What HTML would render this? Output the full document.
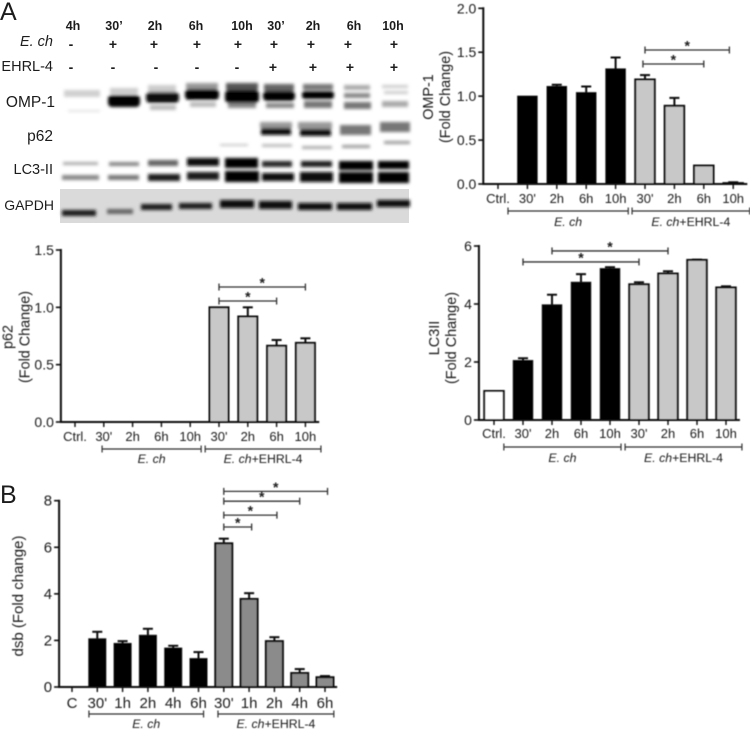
<!DOCTYPE html>
<html lang="en">
<head>
<meta charset="utf-8">
<title>OMP-1, p62, LC3II and dsb fold change</title>
<style>
html,body{margin:0;padding:0;background:#fff;width:750px;height:730px;overflow:hidden}
svg{display:block;font-family:"Liberation Sans",Arial,sans-serif}
text{fill:#1c1c1c}
</style>
</head>
<body>
<svg id="figure" width="750" height="730" viewBox="0 0 750 730" xmlns="http://www.w3.org/2000/svg">
<defs>
<filter id="b1" x="-20%" y="-80%" width="140%" height="260%"><feGaussianBlur stdDeviation="1.7"/></filter>
<filter id="soft" x="-2%" y="-2%" width="104%" height="104%"><feGaussianBlur stdDeviation="0.4"/></filter>
</defs>
<text x="0" y="20" font-size="25">A</text>
<text x="0" y="503" font-size="25">B</text>

<g>
<g font-size="12.5" font-weight="bold" text-anchor="middle">
<text x="73" y="30">4h</text><text x="114" y="30">30’</text><text x="155" y="30">2h</text><text x="196" y="30">6h</text><text x="242" y="30">10h</text><text x="276" y="30">30’</text><text x="313" y="30">2h</text><text x="354" y="30">6h</text><text x="393" y="30">10h</text>
</g>
<g text-anchor="end">
<text x="53" y="46" font-style="italic" font-size="14.5">E. ch</text>
<text x="53" y="71" font-size="14.5">EHRL-4</text>
<text x="55" y="107" font-size="15.5">OMP-1</text>
<text x="53" y="141" font-size="15.5">p62</text>
<text x="53" y="174" font-size="14.5">LC3-II</text>
<text x="54" y="210" font-size="14">GAPDH</text>
</g>
<g font-size="14" font-weight="bold" text-anchor="middle">
<text x="71" y="49">-</text><text x="113" y="49">+</text><text x="154" y="49">+</text><text x="197" y="49">+</text><text x="238" y="49">+</text><text x="274" y="49">+</text><text x="311" y="49">+</text><text x="348" y="49">+</text><text x="394" y="49">+</text>
</g>
<g font-size="14" font-weight="bold" text-anchor="middle">
<text x="71" y="72">-</text><text x="113" y="72">-</text><text x="156" y="72">-</text><text x="197" y="72">-</text><text x="237" y="72">-</text><text x="273" y="72">+</text><text x="313" y="72">+</text><text x="350" y="72">+</text><text x="394" y="72">+</text>
</g>
<g filter="url(#b1)">
<rect x="64" y="90" width="36" height="7" fill="#d0d0d0"/><rect x="68" y="110" width="32" height="2" fill="#e2e2e2"/>
<rect x="110" y="88" width="28" height="6" fill="#ccc"/><rect x="108" y="95" width="32" height="12" rx="4" fill="#050505"/>
<rect x="148" y="85" width="28" height="7" fill="#ccc"/><rect x="146" y="92" width="33" height="11" rx="4" fill="#080808"/><rect x="150" y="105" width="26" height="5" fill="#bbb"/>
<rect x="186" y="83" width="32" height="6" fill="#999"/><rect x="185" y="89" width="34" height="11" rx="4" fill="#040404"/><rect x="190" y="102" width="26" height="5" fill="#bbb"/>
<rect x="226" y="83" width="32" height="7" fill="#555"/><rect x="225" y="90" width="34" height="13" rx="4" fill="#040404"/><rect x="228" y="103" width="28" height="5" fill="#888"/>
<rect x="264" y="84" width="30" height="7" fill="#666"/><rect x="263" y="91" width="32" height="10" rx="4" fill="#050505"/><rect x="266" y="103" width="28" height="5" fill="#888"/>
<rect x="303" y="84" width="30" height="6" fill="#777"/><rect x="302" y="91" width="32" height="8" rx="3" fill="#050505"/><rect x="304" y="101" width="28" height="7" fill="#777"/>
<rect x="344" y="85" width="26" height="5" fill="#aaa"/><rect x="344" y="93" width="26" height="5" fill="#888"/><rect x="344" y="102" width="27" height="7" fill="#777"/>
<rect x="382" y="85" width="26" height="3" fill="#ccc"/><rect x="384" y="91" width="24" height="3" fill="#ccc"/><rect x="382" y="101" width="26" height="6" fill="#aaa"/>
</g>
<g filter="url(#b1)">
<rect x="220" y="144" width="28" height="2" fill="#c4c4c4"/>
<rect x="260" y="122" width="32" height="6" fill="#999"/><rect x="261" y="128" width="30" height="7" fill="#0c0c0c"/><rect x="262" y="144" width="30" height="3" fill="#bbb"/>
<rect x="298" y="122" width="34" height="7" fill="#999"/><rect x="300" y="129" width="31" height="7" fill="#0c0c0c"/><rect x="302" y="146" width="30" height="3" fill="#aaa"/>
<rect x="340" y="125" width="31" height="10" fill="#777"/><rect x="342" y="145" width="28" height="3" fill="#999"/>
<rect x="380" y="122" width="30" height="10" fill="#777"/><rect x="384" y="141" width="26" height="3" fill="#999"/>
</g>
<g filter="url(#b1)">
<rect x="63" y="162" width="35" height="3" fill="#aaa"/><rect x="62" y="175" width="37" height="5" fill="#888"/>
<rect x="109" y="162" width="30" height="4" fill="#888"/><rect x="108" y="175" width="31" height="5" fill="#777"/>
<rect x="148" y="160" width="30" height="6" fill="#666"/><rect x="148" y="174" width="32" height="7" fill="#1a1a1a"/>
<rect x="187" y="158" width="32" height="8" fill="#111"/><rect x="187" y="172" width="32" height="8" fill="#1a1a1a"/>
<rect x="225" y="158" width="33" height="10" fill="#060606"/><rect x="225" y="171" width="34" height="11" fill="#060606"/>
<rect x="262" y="161" width="30" height="6" fill="#2a2a2a"/><rect x="262" y="173" width="32" height="8" fill="#0a0a0a"/>
<rect x="301" y="161" width="31" height="6" fill="#1a1a1a"/><rect x="300" y="172" width="33" height="10" fill="#0a0a0a"/>
<rect x="339" y="161" width="34" height="9" fill="#060606"/><rect x="339" y="172" width="34" height="11" fill="#040404"/>
<rect x="378" y="161" width="31" height="8" fill="#060606"/><rect x="378" y="172" width="31" height="11" fill="#040404"/>
</g>
<rect x="60" y="189" width="349" height="34" fill="#dadada"/>
<g filter="url(#b1)">
<rect x="62" y="210" width="34" height="6" fill="#1a1a1a"/>
<rect x="107" y="209" width="26" height="5" fill="#666"/>
<rect x="141" y="204" width="31" height="6" fill="#1a1a1a"/>
<rect x="179" y="203" width="33" height="6" fill="#1a1a1a"/>
<rect x="220" y="200" width="34" height="8" fill="#111"/>
<rect x="259" y="201" width="33" height="8" fill="#111"/>
<rect x="298" y="203" width="34" height="7" fill="#111"/>
<rect x="337" y="203" width="35" height="7" fill="#111"/>
<rect x="377" y="200" width="33" height="7" fill="#111"/>
</g>
</g>
<g id="charts" filter="url(#soft)"></g>
</svg>
<script>
var ompCategories = ["Ctrl.", "30'", "2h", "6h", "10h", "30'", "2h", "6h", "10h"];
var ompValues = [0, 1.0, 1.11, 1.04, 1.31, 1.19, 0.89, 0.21, 0.01];
var ompErrors = [0, 0, 0.02, 0.07, 0.13, 0.05, 0.09, 0, 0.01];
var ompTicks = ["0.0", "0.5", "1.0", "1.5", "2.0"];
var ompBrackets = [[5, 7.87, 1.525], [4.93, 7, 1.366]];

var p62Categories = ["Ctrl.", "30'", "2h", "6h", "10h", "30'", "2h", "6h", "10h"];
var p62Values = [0, 0, 0, 0, 0, 1.0, 0.92, 0.665, 0.69];
var p62Errors = [0, 0, 0, 0, 0, 0, 0.08, 0.05, 0.04];
var p62Ticks = ["0.0", "0.5", "1.0", "1.5"];
var p62Brackets = [[5, 8, 1.177], [5, 7, 1.055]];

var lc3Categories = ["Ctrl.", "30'", "2h", "6h", "10h", "30'", "2h", "6h", "10h"];
var lc3Values = [1, 2.05, 3.97, 4.75, 5.22, 4.68, 5.05, 5.52, 4.57];
var lc3Errors = [0, 0.08, 0.35, 0.28, 0.05, 0.07, 0.08, 0.01, 0.04];
var lc3Ticks = ["0", "2", "4", "6"];
var lc3Brackets = [[2, 6, 5.83], [1, 5, 5.45]];

var dsbCategories = ["C", "30'", "1h", "2h", "4h", "6h", "30'", "1h", "2h", "4h", "6h"];
var dsbValues = [0, 2.07, 1.87, 2.22, 1.67, 1.22, 6.17, 3.78, 1.97, 0.6, 0.42];
var dsbErrors = [0, 0.3, 0.1, 0.28, 0.1, 0.28, 0.2, 0.25, 0.17, 0.17, 0.05];
var dsbTicks = ["0", "2", "4", "6", "8"];
var dsbBrackets = [[6, 10.1, 8.4], [6, 9, 7.98], [6, 8.1, 7.38], [6, 7.1, 6.87]];

var svgNS = "http://www.w3.org/2000/svg";
var chartsRoot = document.getElementById("charts");

function make(parent, tag, attrs, txt) {
  var el = document.createElementNS(svgNS, tag);
  for (var k in attrs) { el.setAttribute(k, attrs[k]); }
  if (txt !== undefined) { el.textContent = txt; }
  parent.appendChild(el);
  return el;
}

function seg(parent, x1, y1, x2, y2, w, color) {
  return make(parent, "line", {x1: x1, y1: y1, x2: x2, y2: y2, stroke: color || "#111", "stroke-width": w});
}

function drawChart(c) {
  var g = make(chartsRoot, "g", {});
  
  
  var xScale = function (i) { return c.x0 + c.step * i; };
  var maxTick = parseFloat(c.ticks[c.ticks.length - 1]);
  var yScale = function (v) { return c.y0 - (c.y0 - c.yTop) * v / maxTick; };

  // bars and error bars
  c.values.forEach(function (v, i) {
    if (v <= 0) { return; }
    var bx = xScale(i), bw = c.barWidth;
    var err = c.errors[i];
    if (err > 0) {
      var eb = make(g, "g", {stroke: "#111"});
      
      
      seg(eb, bx, yScale(v), bx, yScale(v + err), 2);
      seg(eb, bx - 5, yScale(v + err), bx + 5, yScale(v + err), 2);
    }
    var isBlack = c.fills[i] === "#000";
    var bar = make(g, "rect", {
      x: bx - bw / 2, y: yScale(v), width: bw, height: Math.max(0, c.y0 - yScale(v)),
      fill: c.fills[i], stroke: "#111", "stroke-width": isBlack ? 1 : 2
    });
    
    
  });

  // y axis
  var ya = make(g, "g", {});
  
  
  seg(ya, c.x0 - c.step * c.axisPad, c.y0 + 1, c.x0 - c.step * c.axisPad, c.yTop - 1, 2);
  var axisX = c.x0 - c.step * c.axisPad;
  c.ticks.forEach(function (t) {
    var ty = yScale(parseFloat(t));
    seg(ya, axisX - 5, ty, axisX, ty, 1.6);
    var lbl = make(ya, "text", {x: axisX - 7, y: ty + 5, "font-size": c.yFontSize, "text-anchor": "end"}, t);
    
    
  });

  // x axis
  var xa = make(g, "g", {});
  
  
  seg(xa, axisX, c.y0, xScale(c.values.length - 1) + c.step * 0.48, c.y0, 2);
  c.categories.forEach(function (t, i) {
    seg(xa, xScale(i), c.y0, xScale(i), c.y0 + 5, 1.4);
    var lbl = make(xa, "text", {x: xScale(i), y: c.y0 + c.tickLabelOffset, "font-size": c.fontSize, "text-anchor": "middle"}, t);
    
    
  });

  // axis title
  var title = make(g, "text", {
    transform: "translate(" + c.titleX + "," + c.titleY + ") rotate(-90)",
    "font-size": c.titleSize, "text-anchor": "middle"
  });
  
  
  c.title.forEach(function (line, i) {
    make(title, "tspan", {x: 0, dy: i === 0 ? 0 : 17}, line);
  });

  // group brackets
  c.groups.forEach(function (gr) {
    var gg = make(g, "g", {});
    
    
    var x1 = xScale(gr[0]), x2 = xScale(gr[1]), by = c.y0 + 27;
    seg(gg, x1, by, x2, by, 1.2, "#333");
    seg(gg, x1, by - 3.5, x1, by + 3.5, 1.2, "#333");
    seg(gg, x2, by - 3.5, x2, by + 3.5, 1.2, "#333");
    var t = make(gg, "text", {x: (x1 + x2) / 2, y: c.y0 + c.groupLabelOffset, "font-size": 12.3, "text-anchor": "middle"});
    make(t, "tspan", {"font-style": "italic"}, "E. ch");
    if (gr[2]) { make(t, "tspan", {}, gr[2]); }
  });

  // significance brackets
  c.brackets.forEach(function (br) {
    var sg = make(g, "g", {});
    
    
    var x1 = xScale(br[0]), x2 = xScale(br[1]), by = yScale(br[2]);
    seg(sg, x1, by, x2, by, 1.3, "#333");
    seg(sg, x1, by - 3.5, x1, by + 3.5, 1.3, "#333");
    seg(sg, x2, by - 3.5, x2, by + 3.5, 1.3, "#333");
    make(sg, "text", {x: (x1 + x2) / 2, y: by + 0.5, "font-size": 14, "font-weight": "bold", "text-anchor": "middle"}, "*");
  });
}

var BLACK = "#000", LIGHT = "#c8c8c8", MID = "#8b8b8b", WHITE = "#fff";

drawChart({
  name: "omp1", categories: ompCategories, values: ompValues, errors: ompErrors, ticks: ompTicks, brackets: ompBrackets,
  fills: [WHITE, BLACK, BLACK, BLACK, BLACK, LIGHT, LIGHT, LIGHT, LIGHT],
  x0: 498, step: 29.4, y0: 184, yTop: 8.3, barWidth: 19.5, axisPad: 0.5, fontSize: 13, yFontSize: 14, tickLabelOffset: 19, groupLabelOffset: 42,
  title: ["OMP-1", "(Fold Change)"], titleX: 433, titleY: 97, titleSize: 14.4,
  groups: [[0.34, 4.43, ""], [4.56, 8.56, "+EHRL-4"]]
});
drawChart({
  name: "p62", categories: p62Categories, values: p62Values, errors: p62Errors, ticks: p62Ticks, brackets: p62Brackets,
  fills: [WHITE, BLACK, BLACK, BLACK, BLACK, LIGHT, LIGHT, LIGHT, LIGHT],
  x0: 75, step: 28.8, y0: 422, yTop: 250, barWidth: 19, axisPad: 0.49, fontSize: 13, yFontSize: 14, tickLabelOffset: 19, groupLabelOffset: 41,
  title: ["p62", "(Fold Change)"], titleX: 12.5, titleY: 337, titleSize: 14.4,
  groups: [[0.94, 4.38, ""], [4.52, 8.54, "+EHRL-4"]]
});
drawChart({
  name: "lc3", categories: lc3Categories, values: lc3Values, errors: lc3Errors, ticks: lc3Ticks, brackets: lc3Brackets,
  fills: [WHITE, BLACK, BLACK, BLACK, BLACK, LIGHT, LIGHT, LIGHT, LIGHT],
  x0: 494, step: 29, y0: 420, yTop: 246, barWidth: 19.5, axisPad: 0.52, fontSize: 13, yFontSize: 14, tickLabelOffset: 18, groupLabelOffset: 42,
  title: ["LC3II", "(Fold Change)"], titleX: 439, titleY: 338, titleSize: 14.4,
  groups: [[0.34, 4.38, ""], [4.52, 8.55, "+EHRL-4"]]
});
drawChart({
  name: "dsb", categories: dsbCategories, values: dsbValues, errors: dsbErrors, ticks: dsbTicks, brackets: dsbBrackets,
  fills: [WHITE, BLACK, BLACK, BLACK, BLACK, BLACK, MID, MID, MID, MID, MID],
  x0: 72, step: 25.3, y0: 687, yTop: 500.7, barWidth: 17, axisPad: 0.51, fontSize: 15, yFontSize: 15, tickLabelOffset: 21, groupLabelOffset: 41,
  title: ["dsb (Fold change)"], titleX: 23, titleY: 596, titleSize: 15,
  groups: [[0.67, 5.2, ""], [5.77, 10.35, "+EHRL-4"]]
});
</script>
</body>
</html>
